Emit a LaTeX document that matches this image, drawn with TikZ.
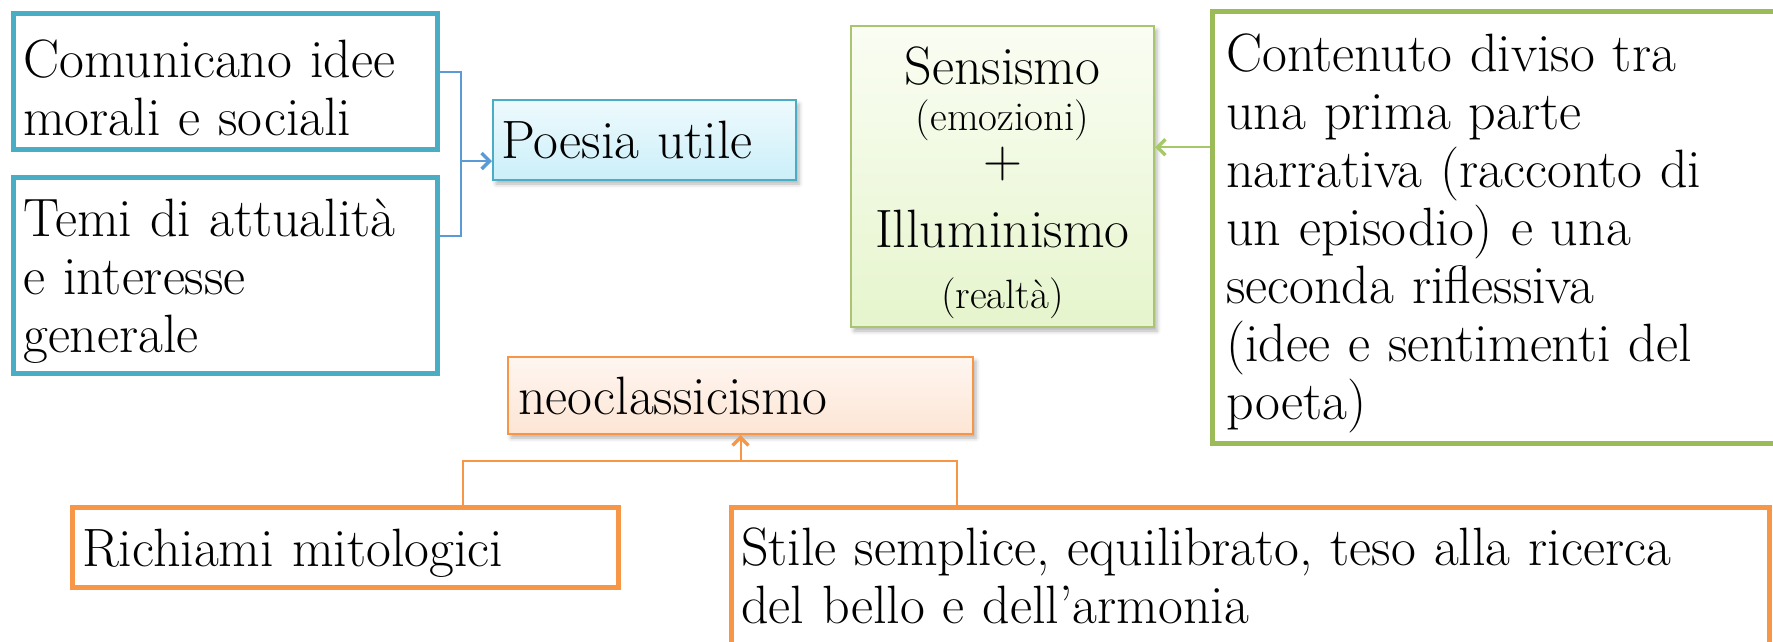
\documentclass[tikz,border=0pt]{standalone}
\usepackage{tikz}
\usetikzlibrary{calc}
\usetikzlibrary{arrows.meta,shadows.blur}
\definecolor{aqua}{HTML}{4BACC6}
\definecolor{linkblue}{HTML}{5B9BD5}
\definecolor{olive}{HTML}{9BBB59}
\definecolor{linkgreen}{HTML}{A5C868}
\definecolor{tang}{HTML}{F79646}
\definecolor{poetop}{HTML}{EEFAFD}
\definecolor{poebot}{HTML}{CBEFF9}
\definecolor{sentop}{HTML}{FAFDF3}
\definecolor{senbot}{HTML}{E6F5CD}
\definecolor{neotop}{HTML}{FEF6F1}
\definecolor{neobot}{HTML}{FDE5D4}
\newcommand{\padtop}{\rule{0pt}{50pt}}
\tikzset{
	card/.style={anchor=north west, align=left, inner xsep=10pt, inner ysep=0pt,
			font=\fontsize{54}{58}\selectfont},
	bluecard/.style={card, draw=aqua, line width=4.5pt},
	greencard/.style={card, draw=olive, line width=4.5pt},
	orangecard/.style={card, draw=tang, line width=4.5pt},
	softshadow/.style={blur shadow={shadow xshift=3pt, shadow yshift=-4pt,
					shadow blur radius=4pt, shadow opacity=30}},
	link/.style={line width=2pt, arrows={-Straight Barb[length=8pt, width=16pt, line width=3.5pt]}},
}
\begin{document}
\begin{tikzpicture}[x=1pt, y=-1pt]
	\useasboundingbox (0,0) rectangle (1773,641);

	% left column
	\node[bluecard, text width=404pt, minimum height=136pt] (com) at (11,11)
	{\padtop Comunicano idee\\ morali e sociali};
	\node[bluecard, text width=404pt, minimum height=196pt] (tem) at (11,175)
	{\padtop Temi di attualità\\ e interesse\\ generale};
	\node[card, text width=287pt, inner xsep=8pt, minimum height=80pt, draw=aqua, line width=2pt,
		top color=poetop, bottom color=poebot, softshadow] (poe) at (492,99) {Poesia utile};

	% right column
	\node[card, align=center, text width=283pt, minimum height=301pt, draw=olive!85, line width=2pt,
		top color=sentop, bottom color=senbot, softshadow, font=\fontsize{54}{52}\selectfont] (sen) at (850,25)
	{\padtop Sensismo\\[-6pt] {\fontsize{41}{44}\selectfont (emozioni)}\\[-5pt] +\\[18pt] Illuminismo\\[9pt]
		{\fontsize{41}{44}\selectfont (realtà)}};
	\node[greencard, text width=537pt, inner xsep=14pt, minimum height=432pt] (con) at (1210,9)
	{\padtop Contenuto diviso tra\\ una prima parte\\ narrativa (racconto di\\ un episodio) e una\\
		seconda riflessiva\\ (idee e sentimenti del\\ poeta)};

	% bottom
	\node[card, text width=445pt, minimum height=77pt, draw=tang, line width=2pt,
		top color=neotop, bottom color=neobot, softshadow] (neo) at (507,356) {neoclassicismo};
	\node[orangecard, text width=526pt, minimum height=80pt] (ric) at (70,505) {\padtop Richiami mitologici};
	\node[orangecard, text width=1018pt, minimum height=138pt] (sti) at (729,505)
	{Stile semplice, equilibrato, teso alla ricerca\\ del bello e dell’armonia};

	% connectors
	\coordinate (brk) at (461,161);
	\draw[link, linkblue, arrows=-] ($(com.east)+(0,-9)$) -| (brk) |- ($(tem.east)+(0,-39)$);
	\draw[link, linkblue] (brk) -- (poe.west |- brk);
	\draw[link, linkgreen] ($(con.west)+(0,-80)$) -- (sen.east |- {$(con.west)+(0,-80)$});
	\coordinate (fork) at (neo.south |- 0,461);
	\draw[link, tang] (fork) -- (neo.south);
	\draw[link, tang, arrows=-] ($(ric.north)+(118,0)$) |- (fork) -| ($(sti.north)+(-293,0)$);
\end{tikzpicture}
\end{document}
